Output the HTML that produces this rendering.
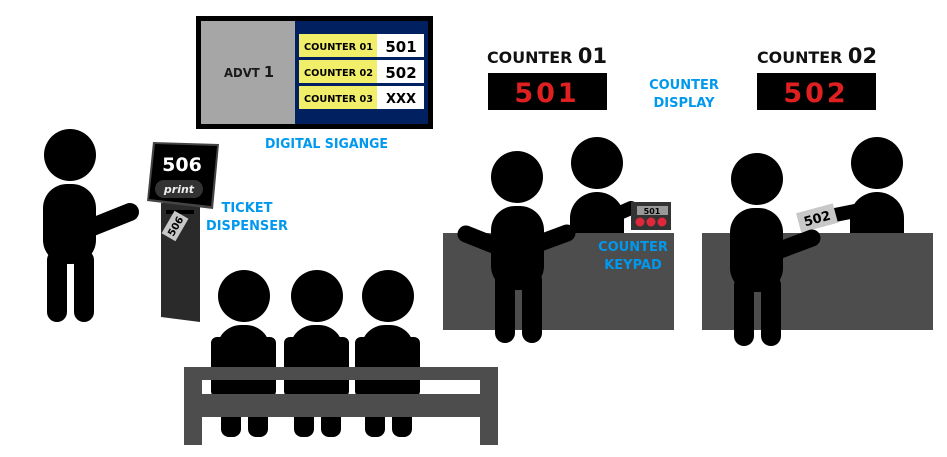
<!DOCTYPE html>
<html><head><meta charset="utf-8"><style>
html,body{margin:0;padding:0;background:#fff;}
svg{display:block;}
text{font-family:"DejaVu Sans","Liberation Sans",sans-serif;font-weight:bold;}
</style></head><body>
<svg width="947" height="457" viewBox="0 0 947 457" xmlns="http://www.w3.org/2000/svg">
<!-- Signage -->
<rect x="196" y="16" width="237" height="113" fill="#000"/>
<rect x="201" y="21" width="94" height="103" fill="#a6a6a6"/>
<rect x="295" y="21" width="133" height="103" fill="#002060"/>
<text x="224" y="77" font-size="12" fill="#1a1a1a" textLength="50" lengthAdjust="spacingAndGlyphs">ADVT <tspan font-size="15">1</tspan></text>
<g font-size="10">
<rect x="299" y="34" width="78" height="23" fill="#f1ee6a"/><rect x="377" y="34" width="47" height="23" fill="#fff"/>
<rect x="299" y="60" width="78" height="23" fill="#f1ee6a"/><rect x="377" y="60" width="47" height="23" fill="#fff"/>
<rect x="299" y="86" width="78" height="23" fill="#f1ee6a"/><rect x="377" y="86" width="47" height="23" fill="#fff"/>
<text x="304" y="50" fill="#000" textLength="69" lengthAdjust="spacingAndGlyphs">COUNTER 01</text>
<text x="304" y="76" fill="#000" textLength="69" lengthAdjust="spacingAndGlyphs">COUNTER 02</text>
<text x="304" y="102" fill="#000" textLength="69" lengthAdjust="spacingAndGlyphs">COUNTER 03</text>
</g>
<g font-size="15" text-anchor="middle" fill="#000">
<text x="401" y="52">501</text><text x="401" y="78">502</text><text x="401" y="103" font-size="13">XXX</text>
</g>
<text x="265" y="148" font-size="13" fill="#0099ee" textLength="123" lengthAdjust="spacingAndGlyphs">DIGITAL SIGANGE</text>

<!-- Counter headings -->
<text x="487" y="63" font-size="16" fill="#111" textLength="120" lengthAdjust="spacingAndGlyphs">COUNTER <tspan font-size="21">01</tspan></text>
<rect x="488" y="73" width="119" height="37" fill="#000"/>
<text x="547" y="102" font-size="27" text-anchor="middle" fill="#e02020" font-family="Liberation Mono,monospace" letter-spacing="3">501</text>
<text x="757" y="63" font-size="16" fill="#111" textLength="120" lengthAdjust="spacingAndGlyphs">COUNTER <tspan font-size="21">02</tspan></text>
<rect x="757" y="73" width="119" height="37" fill="#000"/>
<text x="816" y="102" font-size="27" text-anchor="middle" fill="#e02020" font-family="Liberation Mono,monospace" letter-spacing="3">502</text>
<text x="684" y="89" font-size="13" text-anchor="middle" fill="#0099ee">COUNTER</text>
<text x="684" y="107" font-size="13" text-anchor="middle" fill="#0099ee">DISPLAY</text>

<!-- Left person -->
<circle cx="70" cy="155" r="26" fill="#000"/>
<rect x="43" y="184" width="53" height="80" rx="24" fill="#000"/>
<rect x="47" y="250" width="20" height="72" rx="10" fill="#000"/>
<rect x="74" y="250" width="20" height="72" rx="10" fill="#000"/>
<line x1="90" y1="228" x2="130" y2="212" stroke="#000" stroke-width="18" stroke-linecap="round"/>

<!-- Kiosk -->
<polygon points="161,203 200,203 200,322 161,317" fill="#2a2a2a"/>
<polygon points="153,142 219,144 213,209 147,201" fill="#444"/>
<polygon points="155,144 217,146 211,206 149,199" fill="#000"/>
<text x="182" y="171" font-size="19" text-anchor="middle" fill="#fff">506</text>
<rect x="155" y="180" width="48" height="18" rx="9" fill="#333"/>
<text x="179" y="193" font-size="11" text-anchor="middle" fill="#eee" font-style="italic">print</text>
<rect x="166" y="210" width="28" height="4" fill="#000"/>
<g transform="translate(175,226) rotate(-60)"><rect x="-13" y="-8" width="26" height="16" fill="#c8c8c8"/><text x="0" y="4" font-size="10" text-anchor="middle" fill="#000">506</text></g>
<text x="247" y="212" font-size="13" text-anchor="middle" fill="#0099ee">TICKET</text>
<text x="247" y="230" font-size="13" text-anchor="middle" fill="#0099ee" textLength="82" lengthAdjust="spacingAndGlyphs">DISPENSER</text>

<!-- Seated people -->
<g fill="#000">
<circle cx="244" cy="296" r="26"/><circle cx="317" cy="296" r="26"/><circle cx="388" cy="296" r="26"/>
<rect x="211" y="337" width="65" height="60" rx="6"/>
<rect x="284" y="337" width="65" height="60" rx="6"/>
<rect x="355" y="337" width="65" height="60" rx="6"/>
<rect x="217" y="325" width="53" height="90" rx="24"/><rect x="290" y="325" width="53" height="90" rx="24"/><rect x="361" y="325" width="53" height="90" rx="24"/>
<rect x="221" y="405" width="20" height="32" rx="8"/><rect x="248" y="405" width="20" height="32" rx="8"/>
<rect x="294" y="405" width="20" height="32" rx="8"/><rect x="321" y="405" width="20" height="32" rx="8"/>
<rect x="365" y="405" width="20" height="32" rx="8"/><rect x="392" y="405" width="20" height="32" rx="8"/>
</g>
<!-- Bench -->
<g fill="#4d4d4d">
<rect x="184" y="367" width="314" height="13"/>
<rect x="184" y="394" width="314" height="23"/>
<rect x="184" y="367" width="18" height="78"/>
<rect x="480" y="367" width="18" height="78"/>
</g>

<!-- Counter 1 -->
<g fill="#000">
<circle cx="597" cy="163" r="26"/>
<path d="M570 233 V218 a27 26 0 0 1 54 0 V233Z"/>
<line x1="615" y1="215" x2="631" y2="208" stroke="#000" stroke-width="14" stroke-linecap="round"/>
</g>
<rect x="631" y="202" width="40" height="28" fill="#333"/>
<rect x="637" y="206" width="31" height="9" fill="#999"/>
<text x="652" y="214" font-size="8" text-anchor="middle" fill="#000">501</text>
<circle cx="640" cy="222" r="4.5" fill="#e0283c"/><circle cx="651" cy="222" r="4.5" fill="#e0283c"/><circle cx="662" cy="222" r="4.5" fill="#e0283c"/>
<rect x="443" y="233" width="231" height="97" fill="#4d4d4d"/>
<text x="633" y="251" font-size="13" text-anchor="middle" fill="#0099ee">COUNTER</text>
<text x="633" y="269" font-size="13" text-anchor="middle" fill="#0099ee">KEYPAD</text>
<g fill="#000">
<circle cx="517" cy="177" r="26"/>
<rect x="491" y="206" width="53" height="84" rx="24"/>
<rect x="495" y="270" width="20" height="73" rx="10"/><rect x="522" y="270" width="20" height="73" rx="10"/>
<line x1="466" y1="234" x2="496" y2="246" stroke="#000" stroke-width="17" stroke-linecap="round"/>
<line x1="540" y1="243" x2="567" y2="233" stroke="#000" stroke-width="17" stroke-linecap="round"/>
</g>

<!-- Counter 2 -->
<g fill="#000">
<circle cx="877" cy="163" r="26"/>
<path d="M850 233 V218 a27 26 0 0 1 54 0 V233Z"/>
<line x1="860" y1="210" x2="835" y2="215" stroke="#000" stroke-width="14" stroke-linecap="round"/>
</g>
<rect x="702" y="233" width="231" height="97" fill="#4d4d4d"/>
<g transform="translate(817,218) rotate(-15)"><rect x="-19" y="-10" width="38" height="20" fill="#c8c8c8"/><text x="0" y="5" font-size="13" text-anchor="middle" fill="#000">502</text></g>
<g fill="#000">
<circle cx="757" cy="179" r="26"/>
<rect x="730" y="208" width="53" height="84" rx="24"/>
<rect x="734" y="275" width="20" height="71" rx="10"/><rect x="761" y="275" width="20" height="71" rx="10"/>
<line x1="775" y1="252" x2="812" y2="238" stroke="#000" stroke-width="17" stroke-linecap="round"/>
</g>
</svg>
</body></html>
